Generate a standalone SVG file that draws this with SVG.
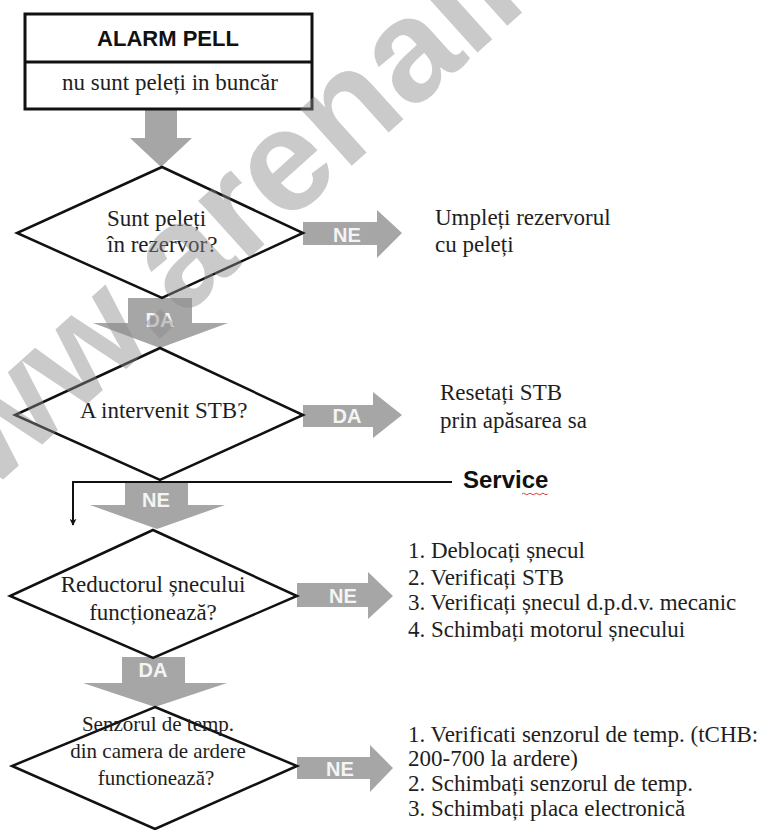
<svg xmlns="http://www.w3.org/2000/svg" width="766" height="830" viewBox="0 0 766 830">
  <defs>
    <style>
      .bg { fill: #ffffff; }
      .box { fill: #ffffff; stroke: #111111; stroke-width: 3; }
      .dia { fill: #ffffff; stroke: #111111; stroke-width: 2.5; stroke-linejoin: miter; }
      .blk { fill: #a6a6a6; stroke: none; }
      .lbl { font-family: "Liberation Sans", Arial, sans-serif; font-weight: bold; font-size: 20px; fill: #f4f4f4; text-anchor: middle; }
      .t { font-family: "Liberation Serif", "Times New Roman", serif; font-size: 23px; fill: #1e1e1e; }
      .tc { text-anchor: middle; }
      .t21 { font-size: 21px; }
      .title { font-family: "Liberation Sans", Arial, sans-serif; font-weight: bold; font-size: 22px; fill: #111111; text-anchor: middle; }
      .svc { font-family: "Liberation Sans", Arial, sans-serif; font-weight: bold; font-size: 24px; fill: #111111; }
      .line { fill: none; stroke: #111111; stroke-width: 2; }
      .wm { font-family: "Liberation Sans", Arial, sans-serif; font-weight: bold; font-size: 145px; fill: #8a8a8a; fill-opacity: 0.45; }
    </style>
    <marker id="ah" viewBox="0 0 10 10" refX="9" refY="5" markerWidth="7" markerHeight="7" markerUnits="userSpaceOnUse" orient="auto">
      <path d="M0,0 L10,5 L0,10 L3,5 Z" fill="#111111"/>
    </marker>
  </defs>
  <rect class="bg" x="0" y="0" width="766" height="830"/>

  <g id="connectors">
    <polygon class="blk" points="145,109 177,109 177,138 192,138 161,167 130,138 145,138"/>
    <polygon class="blk" points="128,298 192,298 192,323 228,323 160,348 93,323 128,323"/>
    <text class="lbl" x="160" y="327">DA</text>
    <polygon class="blk" points="303,222 377,222 377,210 402,233 377,258 377,245 303,245"/>
    <text class="lbl" x="347" y="242">NE</text>
    <polygon class="blk" points="303,405 373,405 373,392 402,415 373,438 373,427 303,427"/>
    <text class="lbl" x="347" y="423">DA</text>
    <polygon class="blk" points="125,481 188,481 188,505 225,505 157,529 90,505 125,505"/>
    <text class="lbl" x="156" y="507">NE</text>
    <polygon class="blk" points="297,583 368,583 368,572 393,596 368,619 368,607 297,607"/>
    <text class="lbl" x="343" y="603">NE</text>
    <polygon class="blk" points="122,657 185,657 185,683 227,683 155,707 83,683 122,683"/>
    <text class="lbl" x="153" y="677">DA</text>
    <polygon class="blk" points="297,757 370,757 370,745 393,768 370,792 370,779 297,779"/>
    <text class="lbl" x="340" y="776">NE</text>
    <path class="line" d="M452,482 H73 V525" marker-end="url(#ah)"/>
  </g>

  <g id="alarm">
    <rect class="box" x="25" y="14" width="287" height="95"/>
    <line x1="25" y1="62" x2="312" y2="62" stroke="#111111" stroke-width="3"/>
    <text class="title" x="168" y="46">ALARM PELL</text>
    <text class="t tc" x="170" y="90">nu sunt peleți in buncăr</text>
  </g>

  <g id="q1">
    <polygon class="dia" points="162,167 303,233 162,298 17,233"/>
    <text class="t" x="107" y="226">Sunt peleți</text>
    <text class="t" x="107" y="252">în rezervor?</text>
  </g>

  <g id="a1">
    <text class="t" x="435" y="225">Umpleți rezervorul</text>
    <text class="t" x="435" y="252">cu peleți</text>
  </g>

  <g id="q2">
    <polygon class="dia" points="160,348 303,415 160,480 15,415"/>
    <text class="t" x="80" y="418">A intervenit STB?</text>
  </g>

  <g id="a2">
    <text class="t" x="440" y="400">Resetați STB</text>
    <text class="t" x="440" y="428">prin apăsarea sa</text>
  </g>

  <g id="service">
    <text class="svc" x="463" y="488">Service</text>
    <path d="M522,494 q1.6,-1.5 3.2,0 t3.2,0 t3.2,0 t3.2,0 t3.2,0 t3.2,0 t3.2,0 t3.2,0" fill="none" stroke="#d04040" stroke-width="1"/>
  </g>

  <g id="q3">
    <polygon class="dia" points="153,530 297,596 153,658 10,596"/>
    <text class="t tc" x="153" y="592">Reductorul șnecului</text>
    <text class="t tc" x="153" y="620">funcționează?</text>
  </g>

  <g id="a3">
    <text class="t" x="408" y="558">1. Deblocați șnecul</text>
    <text class="t" x="408" y="585">2. Verificați STB</text>
    <text class="t" x="408" y="610">3. Verificați șnecul d.p.d.v. mecanic</text>
    <text class="t" x="408" y="637">4. Schimbați motorul șnecului</text>
  </g>

  <g id="q4">
    <polygon class="dia" points="155,707 297,766 155,829 12,766"/>
    <text class="t t21 tc" x="158" y="731">Senzorul de temp.</text>
    <text class="t t21 tc" x="158" y="758">din camera de ardere</text>
    <text class="t t21 tc" x="156" y="785">functionează?</text>
  </g>

  <g id="a4">
    <text class="t" x="408" y="742">1. Verificati senzorul de temp. (tCHB:</text>
    <text class="t" x="408" y="766">200-700 la ardere)</text>
    <text class="t" x="408" y="791">2. Schimbați senzorul de temp.</text>
    <text class="t" x="408" y="816">3. Schimbați placa electronică</text>
  </g>

  <g id="watermark">
    <text class="wm" transform="translate(-95,568) rotate(-42)">www.arenall.ro</text>
  </g>
</svg>
